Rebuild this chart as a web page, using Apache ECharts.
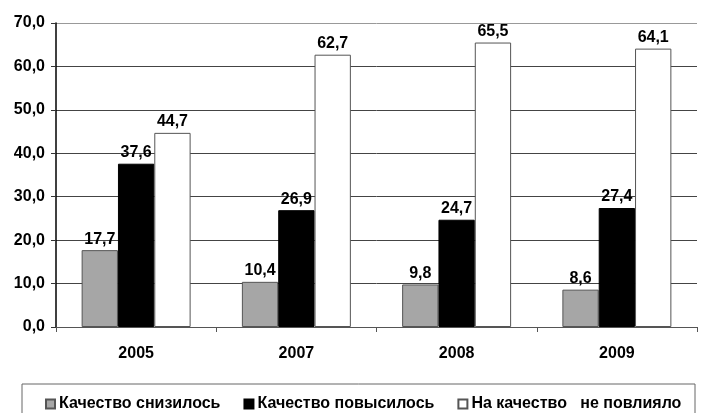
<!DOCTYPE html>
<html><head><meta charset="utf-8">
<script src="https://cdn.jsdelivr.net/npm/echarts@6/dist/echarts.min.js"></script>
<style>html,body{margin:0;padding:0;background:#fff}#c{width:704px;height:413px}</style>
</head><body><div id="c"></div>
<script>
const categories = ['2005', '2007', '2008', '2009'];
const seriesNames = ['Качество снизилось', 'Качество повысилось', 'На качество   не повлияло'];
const decreased = [17.7, 10.4, 9.8, 8.6];
const increased = [37.6, 26.9, 24.7, 27.4];
const noEffect = [44.7, 62.7, 65.5, 64.1];
const yTicks = [0, 10, 20, 30, 40, 50, 60, 70];

const fmt = v => Number(v).toFixed(1).replace('.', ',');
const font = 'Liberation Sans, Arial, sans-serif';
const labelCfg = {show: true, position: 'top', distance: 3, fontFamily: font, fontWeight: 'bold', fontSize: 16, color: '#000',
  formatter: p => fmt(p.value)};
const chart = echarts.init(document.getElementById('c'), null, {renderer: 'canvas'});
chart.setOption({
  animation: false,
  backgroundColor: '#fff',
  grid: {left: 56, right: 7, top: 23, bottom: 86},
  graphic: [{type: 'rect', shape: {x: 22, y: 384, width: 673, height: 40}, style: {fill: 'none', stroke: '#666', lineWidth: 1}, z: -1}],
  legend: {
    top: 391, left: 40, itemWidth: 9, itemHeight: 9, itemGap: 23,
    icon: 'rect',
    textStyle: {fontFamily: font, fontWeight: 'bold', fontSize: 16, color: '#000', padding: [0, 0, 0, -1]},
    data: seriesNames
  },
  xAxis: {
    type: 'category', data: categories,
    axisLine: {lineStyle: {color: '#555', width: 1}},
    axisTick: {show: true, length: 5, lineStyle: {color: '#555'}},
    axisLabel: {fontFamily: font, fontWeight: 'bold', fontSize: 16, color: '#000', margin: 19}
  },
  yAxis: {
    type: 'value', min: yTicks[0], max: yTicks[yTicks.length - 1], interval: 10,
    axisLine: {show: true, lineStyle: {color: '#000', width: 1.5}},
    axisTick: {show: true, length: 5, lineStyle: {color: '#333'}},
    axisLabel: {fontFamily: font, fontWeight: 'bold', fontSize: 16, color: '#000', margin: 11, formatter: v => fmt(v)},
    splitLine: {show: true, lineStyle: {color: ['#555', '#444', '#444', '#444', '#444', '#444', '#444', '#999'], width: 1}}
  },
  series: [
    {name: seriesNames[0], type: 'bar', data: decreased, barGap: '0%', barCategoryGap: '32%',
      itemStyle: {color: '#a6a6a6', borderColor: '#555', borderWidth: 1}, label: labelCfg},
    {name: seriesNames[1], type: 'bar', data: increased, barGap: '0%', barCategoryGap: '32%',
      itemStyle: {color: '#000', borderColor: '#000', borderWidth: 1}, label: labelCfg},
    {name: seriesNames[2], type: 'bar', data: noEffect, barGap: '0%', barCategoryGap: '32%',
      itemStyle: {color: '#fff', borderColor: '#555', borderWidth: 1}, label: labelCfg}
  ]
});
</script></body></html>
